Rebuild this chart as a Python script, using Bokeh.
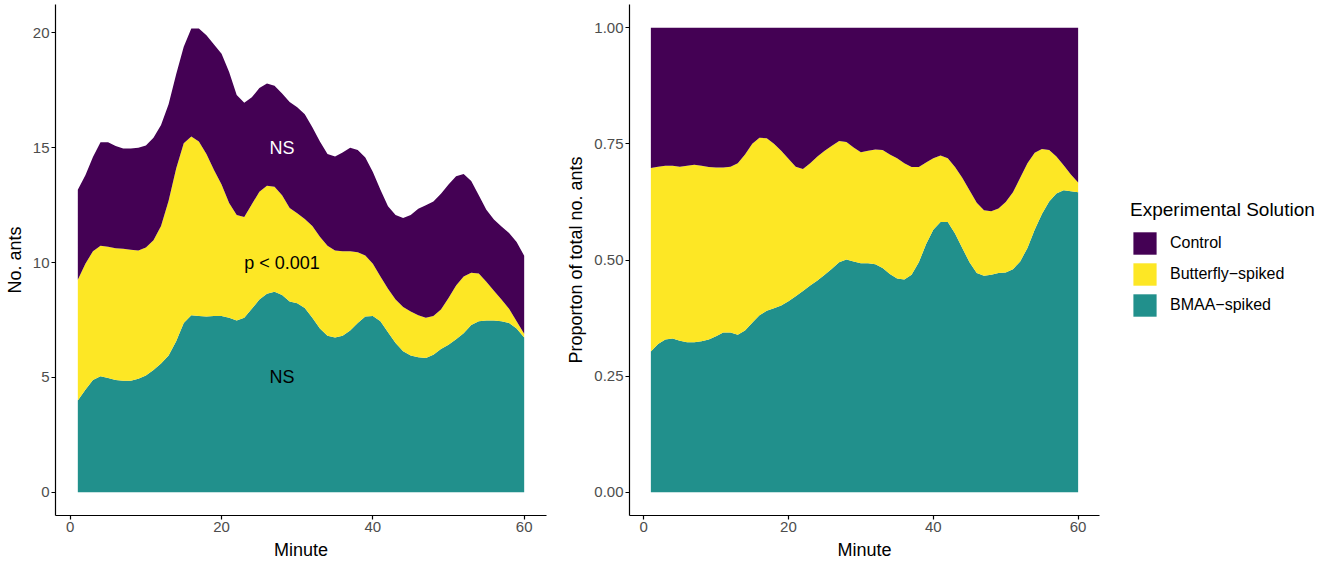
import numpy as np
from bokeh.plotting import figure
from bokeh.models import (ColumnDataSource, Legend, LegendItem, FixedTicker,
                          PrintfTickFormatter, Range1d)
from bokeh.layouts import row
from bokeh.embed import file_html
from bokeh.resources import INLINE
from bokeh.core.properties import value

# ---------------- data ----------------
minutes = list(range(1, 61))

# left panel: stacked boundaries (No. ants)
bmaa_top = [4.0, 4.47, 4.89, 5.05, 4.98, 4.89, 4.86, 4.86, 4.94, 5.09,
            5.33, 5.61, 5.96, 6.58, 7.37, 7.71, 7.68, 7.65, 7.68, 7.68,
            7.6, 7.48, 7.6, 7.99, 8.39, 8.65, 8.73, 8.59, 8.31, 8.23,
            8.03, 7.6, 7.13, 6.82, 6.74, 6.82, 7.05, 7.37, 7.65, 7.68,
            7.45, 6.97, 6.5, 6.14, 5.96, 5.88, 5.85, 5.99, 6.24, 6.43,
            6.66, 6.93, 7.29, 7.45, 7.48, 7.48, 7.45, 7.37, 7.13, 6.74]
butterfly_top = [9.25, 9.95, 10.5, 10.74, 10.69, 10.63, 10.6, 10.56, 10.53, 10.66,
                 10.97, 11.6, 12.7, 14.1, 15.2, 15.49, 15.28, 14.73, 14.03, 13.4,
                 12.6, 12.07, 11.99, 12.54, 13.09, 13.35, 13.3, 12.93, 12.38, 12.15,
                 11.9, 11.6, 11.13, 10.74, 10.53, 10.5, 10.5, 10.45, 10.31, 9.95,
                 9.4, 8.86, 8.39, 8.07, 7.87, 7.71, 7.6, 7.68, 7.96, 8.46,
                 9.01, 9.4, 9.56, 9.53, 9.17, 8.78, 8.39, 7.99, 7.45, 6.9]
total_top = [13.17, 13.8, 14.6, 15.24, 15.24, 15.08, 14.97, 14.97, 15.0, 15.1,
             15.44, 15.99, 16.9, 18.2, 19.4, 20.2, 20.2, 19.9, 19.5, 19.1,
             18.3, 17.3, 16.96, 17.2, 17.6, 17.8, 17.7, 17.37, 17.0, 16.77,
             16.46, 15.9, 15.28, 14.73, 14.62, 14.8, 15.0, 14.9, 14.58, 13.95,
             13.17, 12.46, 12.07, 11.94, 12.07, 12.35, 12.5, 12.66, 13.0, 13.4,
             13.76, 13.86, 13.56, 12.93, 12.3, 11.88, 11.57, 11.29, 10.9, 10.3]

# right panel: stacked boundaries (proportion)
prop_bmaa_top = [0.303, 0.319, 0.329, 0.331, 0.326, 0.323, 0.323, 0.325, 0.329, 0.336,
                 0.344, 0.344, 0.339, 0.348, 0.365, 0.381, 0.391, 0.396, 0.402, 0.411,
                 0.422, 0.433, 0.445, 0.456, 0.468, 0.481, 0.495, 0.501, 0.497, 0.493,
                 0.493, 0.491, 0.483, 0.47, 0.46, 0.458, 0.468, 0.495, 0.534, 0.565,
                 0.582, 0.582, 0.557, 0.526, 0.495, 0.472, 0.466, 0.468, 0.472, 0.473,
                 0.48, 0.497, 0.526, 0.565, 0.599, 0.626, 0.643, 0.65, 0.648, 0.646]
prop_butterfly_top = [0.698, 0.701, 0.703, 0.703, 0.701, 0.703, 0.705, 0.703, 0.70, 0.699,
                      0.699, 0.701, 0.708, 0.727, 0.75, 0.763, 0.762, 0.75, 0.735, 0.718,
                      0.701, 0.696, 0.708, 0.723, 0.735, 0.746, 0.756, 0.754, 0.742, 0.732,
                      0.735, 0.738, 0.737, 0.727, 0.719, 0.708, 0.70, 0.70, 0.71, 0.719,
                      0.725, 0.719, 0.70, 0.677, 0.65, 0.623, 0.607, 0.605, 0.611, 0.625,
                      0.646, 0.677, 0.708, 0.731, 0.739, 0.737, 0.723, 0.704, 0.684, 0.667]
prop_total_top = [1.0] * 60

series_names = ["Control", "Butterfly\u2212spiked", "BMAA\u2212spiked"]
series_colors = ["#440154", "#FDE725", "#21908C"]

ann_x = [28, 28, 28]
ann_y = [15, 10, 5]
ann_text = ["NS", "p < 0.001", "NS"]
ann_color = ["white", "black", "black"]

x_ticks = [0, 20, 40, 60]
y1_ticks = [0, 5, 10, 15, 20]
y2_ticks = [0, 0.25, 0.5, 0.75, 1.0]

FONT = "Liberation Sans"

# per-series values from the stacked boundaries
bmaa = np.array(bmaa_top)
butterfly = np.array(butterfly_top) - np.array(bmaa_top)
control = np.array(total_top) - np.array(butterfly_top)
p_bmaa = np.array(prop_bmaa_top)
p_butterfly = np.array(prop_butterfly_top) - np.array(prop_bmaa_top)
p_control = np.array(prop_total_top) - np.array(prop_butterfly_top)

src1 = ColumnDataSource(dict(minute=minutes, bmaa=bmaa, butterfly=butterfly, control=control))
src2 = ColumnDataSource(dict(minute=minutes, bmaa=p_bmaa, butterfly=p_butterfly, control=p_control))


def style(p, xlabel, ylabel):
    p.xgrid.visible = False
    p.ygrid.visible = False
    p.outline_line_color = None
    p.background_fill_color = "white"
    p.border_fill_color = "white"
    for ax in (p.xaxis[0], p.yaxis[0]):
        ax.axis_line_color = "black"
        ax.axis_line_width = 1.2
        ax.major_tick_line_color = "black"
        ax.major_tick_line_width = 1.2
        ax.major_tick_in = 0
        ax.major_tick_out = 4
        ax.minor_tick_line_color = None
        ax.major_label_text_font = FONT
        ax.major_label_text_font_size = "15px"
        ax.major_label_text_color = "#4d4d4d"
        ax.major_label_standoff = 2
        ax.axis_label_text_font = FONT
        ax.axis_label_text_font_size = "18px"
        ax.axis_label_text_font_style = "normal"
        ax.axis_label_text_color = "black"
        ax.axis_label_standoff = 5
    p.xaxis[0].axis_label = xlabel
    p.yaxis[0].axis_label = ylabel
    p.xaxis[0].ticker = FixedTicker(ticks=x_ticks)


stack_cols = ["bmaa", "butterfly", "control"]
stack_colors = [series_colors[2], series_colors[1], series_colors[0]]

FH = 511

# ---------------- left panel ----------------
p1 = figure(frame_width=491, frame_height=FH, output_backend="svg", toolbar_location=None,
            x_range=Range1d(-1.95, 62.95), y_range=Range1d(-1.01, 21.24),
            min_border_left=55, min_border_right=11, min_border_top=4, min_border_bottom=0)
p1.varea_stack(stackers=stack_cols, x="minute", color=stack_colors, source=src1)
style(p1, "Minute", "No. ants")
p1.yaxis[0].ticker = FixedTicker(ticks=y1_ticks)

ann_src = ColumnDataSource(dict(x=ann_x, y=ann_y, text=ann_text, color=ann_color))
p1.text(x="x", y="y", text="text", text_color="color", source=ann_src,
        text_align="center", text_baseline="middle",
        text_font=value(FONT), text_font_size="18px")

# ---------------- right panel ----------------
p2 = figure(frame_width=470, frame_height=FH, output_backend="svg", toolbar_location=None,
            x_range=Range1d(-1.95, 62.95), y_range=Range1d(-0.05, 1.05),
            min_border_left=72, min_border_right=222, min_border_top=4, min_border_bottom=0)
rs = p2.varea_stack(stackers=stack_cols, x="minute", color=stack_colors, source=src2)
style(p2, "Minute", "Proporton of total no. ants")
p2.yaxis[0].ticker = FixedTicker(ticks=y2_ticks)
p2.yaxis[0].formatter = PrintfTickFormatter(format="%.2f")

legend = Legend(items=[LegendItem(label=series_names[0], renderers=[rs[2]]),
                       LegendItem(label=series_names[1], renderers=[rs[1]]),
                       LegendItem(label=series_names[2], renderers=[rs[0]])],
                title="Experimental Solution", location=(31, 196))
legend.title_text_font = FONT
legend.title_text_font_size = "19px"
legend.title_text_font_style = "normal"
legend.title_text_color = "black"
legend.title_standoff = 8
legend.label_text_font = FONT
legend.label_text_font_size = "16px"
legend.label_text_color = "black"
legend.label_standoff = 11
legend.glyph_width = 29
legend.glyph_height = 28
legend.label_height = 28
legend.spacing = 3
legend.padding = 0
legend.margin = 0
legend.border_line_color = None
legend.background_fill_alpha = 0
p2.add_layout(legend, "right")

layout = row(p1, p2)
open("out.html", "w").write(file_html(layout, INLINE))
